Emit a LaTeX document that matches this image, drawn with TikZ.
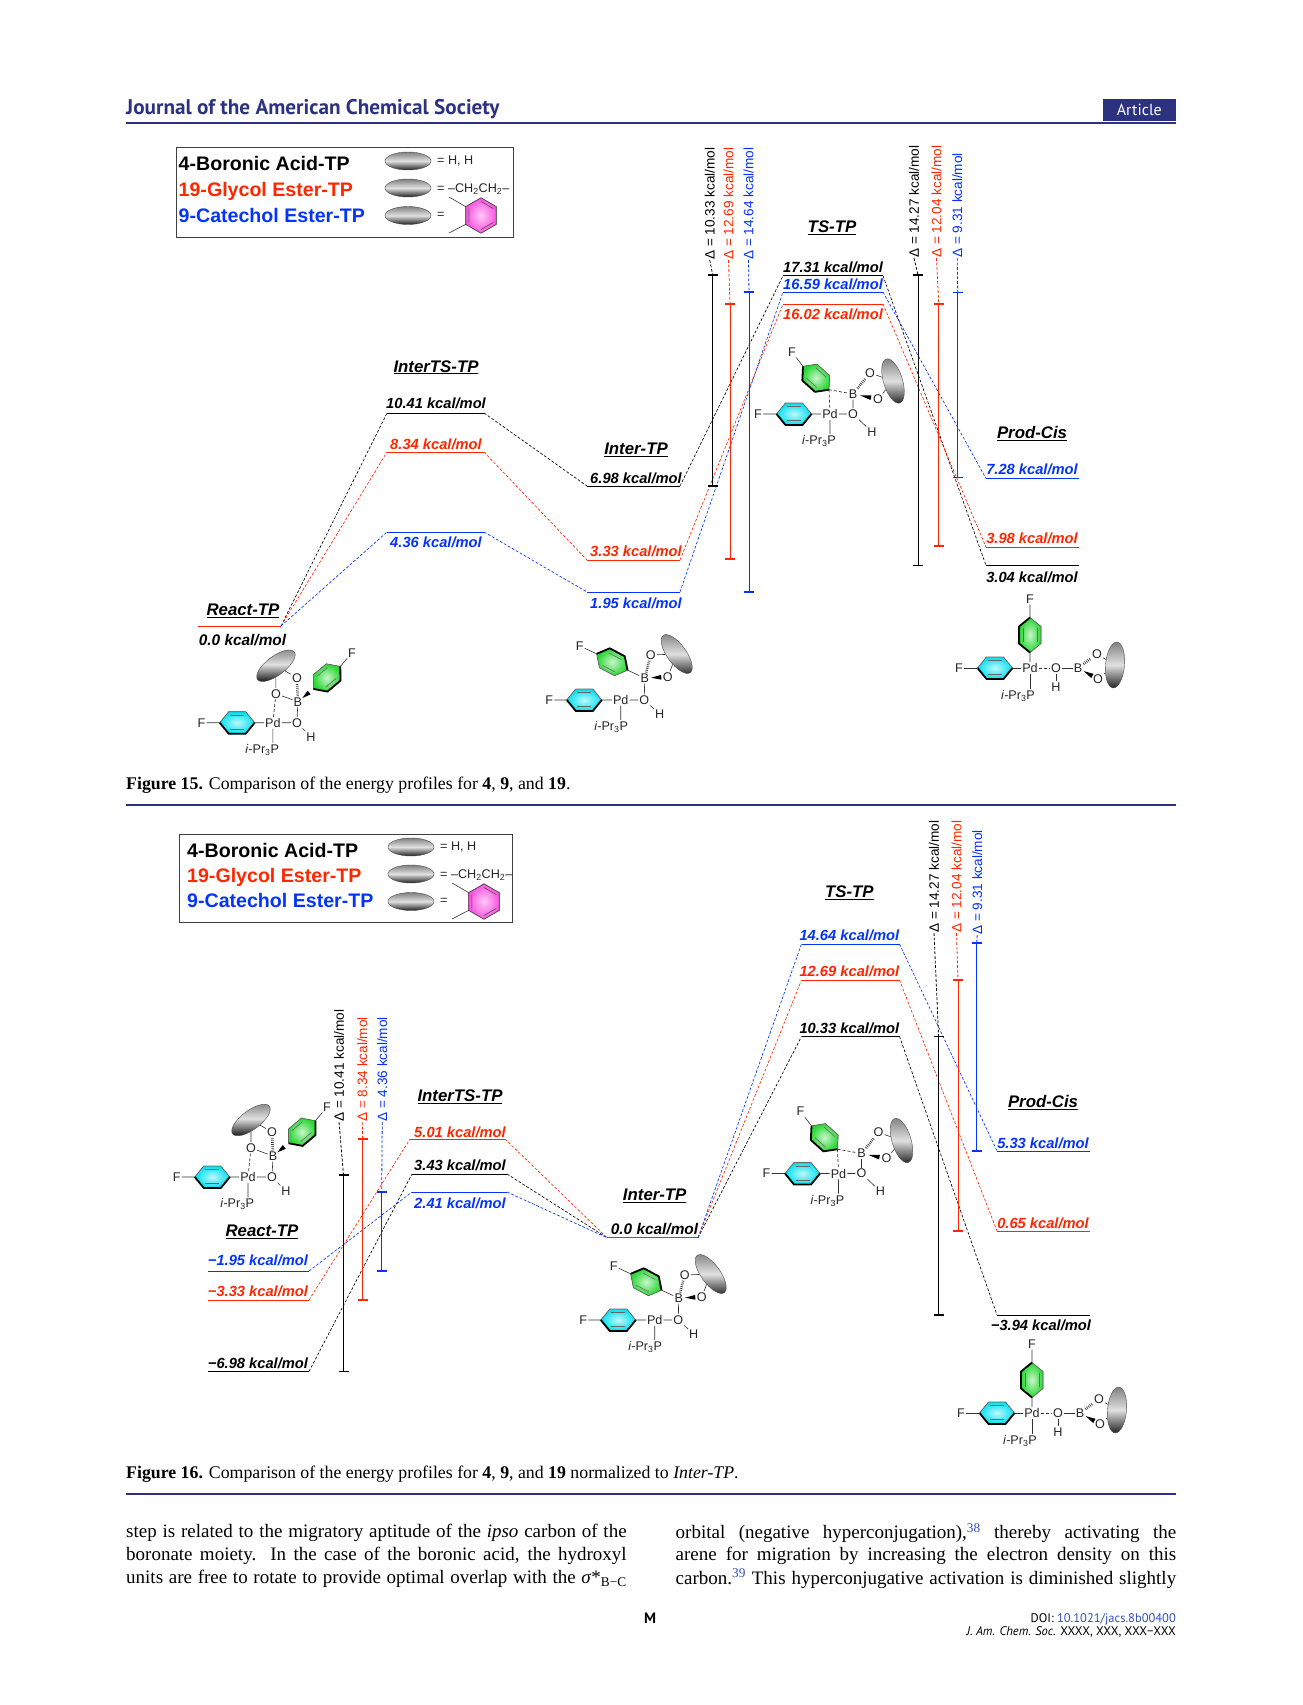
\documentclass[tikz,border=0pt]{standalone}
\usepackage{fontspec}
\setmainfont{Liberation Sans}
\newfontfamily\capfont{Liberation Serif}
\newfontfamily\headfont{PT Sans}
\usetikzlibrary{calc,shapes.geometric}
\definecolor{repRed}{RGB}{255,38,0}
\definecolor{repBlue}{RGB}{4,51,255}
\definecolor{jacsNavy}{RGB}{44,50,128}
\definecolor{ringCyan}{RGB}{0,225,240}
\definecolor{ringGreen}{RGB}{40,215,50}
\definecolor{ringPink}{RGB}{250,80,225}
\definecolor{linkBlue}{RGB}{50,80,190}

\newcommand{\wedgebond}[2]{%
    \coordinate (wa) at ($(#1)!.28!(#2)$);
    \coordinate (wb) at ($(#1)!.72!(#2)$);
    \fill (wa) -- ($(wb)!2.4pt!90:(wa)$) -- ($(wb)!2.4pt!-90:(wa)$) -- cycle;
}
\tikzset{
    atom/.style={font=\fontsize{12.6}{13}\selectfont, inner sep=1pt, text=black!85},
    bond/.style={line width=.6pt, black!80},
    dbond/.style={line width=.7pt, black!80, dash pattern=on 3pt off 2pt},
    hbond/.style={line width=2.6pt, black!80, dash pattern=on .7pt off 1.2pt},
    ball/.style={ellipse, draw=black!70, line width=.4pt, inner sep=0pt, minimum width=46pt, minimum height=19pt,
        top color=black!50, bottom color=black!88, middle color=black!12},
    conn/.style={line width=.65pt, dash pattern=on 2.8pt off 1.8pt},
    levelline/.style={line width=1pt},
    elabel/.style={font=\fontsize{14.7}{16}\selectfont\bfseries\itshape, inner sep=0pt, yshift=-.7pt},
    stitle/.style={font=\fontsize{16.8}{18}\selectfont\bfseries\itshape, inner sep=0pt, yshift=-.8pt},
    dlabel/.style={font=\fontsize{13.6}{15}\selectfont, rotate=90, anchor=west, inner sep=0pt},
    legtext/.style={font=\fontsize{19.6}{21}\selectfont\bfseries, anchor=west, inner sep=0pt, text height=14pt, text depth=4pt},
    legkey/.style={font=\fontsize{12.6}{13}\selectfont, anchor=west, inner sep=0pt, text=black!85, text height=9pt, text depth=3pt},
    figcap/.style={font=\capfont\fontsize{17.8}{19}\selectfont, anchor=west, inner sep=0pt},
    bodyline/.style={font=\capfont\fontsize{19}{20}\selectfont, anchor=west, inner sep=0pt},
    pics/aryl/.style={code={
        \coordinate (-w) at (-17.5,0);
        \coordinate (-e) at (17.5,0);
        \fill[inner color=white!75!#1, outer color=#1] (-17.5,0) -- (-8.5,-11) -- (8.5,-11) -- (17.5,0) -- (8.5,11) -- (-8.5,11) -- cycle;
        \draw[line width=.7pt, black!60] (-17.5,0) -- (-8.5,-11) -- (8.5,-11) -- (17.5,0);
        \draw[line width=1.8pt, line join=round, black] (-17.5,0) -- (-8.5,11) -- (8.5,11) -- (17.5,0);
        \draw[line width=.6pt, black!60] (-7,-7.5) -- (7,-7.5) (-7,6.5) -- (7,6.5);
    }},
    pics/reactmol/.style={code={
        \node[ball, rotate=37] (el) at (3,-57) {};
        \node[atom] (pd) at (0,0) {Pd};
        \node[atom] (fa) at (-71.4,0) {F};
        \node[atom] (ox) at (24,0) {O};
        \node[atom] (hh) at (38,14) {H};
        \node[atom] (pp) at (-10.7,27.3) {\textit{i}-Pr\textsubscript{3}P};
        \node[atom] (bb) at (25,-21) {B};
        \node[atom] (oa) at (3,-29) {O};
        \node[atom] (ob) at (24,-45) {O};
        \node[atom] (fb) at (79,-70) {F};
        \pic (cy) at (-35.7,0) {aryl=ringCyan};
        \pic[rotate=40] (gr) at (54,-45) {aryl=ringGreen};
        \draw[bond] (fa) -- (cy-w) (cy-e) -- (pd) (pd) -- (ox) (ox) -- (hh) (pd) -- (pd |- pp.north);
        \draw[bond] (bb) -- (ox) (oa) -- (bb) (oa) -- (el) (ob) -- (el) (gr-e) -- (fb);
        \draw[dbond] (pd) -- (oa);
        \draw[hbond] (bb) -- (ob);
        \wedgebond{bb}{gr-w}
    }},
    pics/intermol/.style={code={
        \node[ball, rotate=-54] (el) at (56,-46) {};
        \node[atom] (pd) at (0,0) {Pd};
        \node[atom] (fa) at (-71.4,0) {F};
        \node[atom] (ox) at (23.6,0) {O};
        \node[atom] (hh) at (39,14) {H};
        \node[atom] (pp) at (-9.6,26.7) {\textit{i}-Pr\textsubscript{3}P};
        \node[atom] (bb) at (24,-22) {B};
        \node[atom] (oa) at (30,-45) {O};
        \node[atom] (ob) at (47,-23) {O};
        \node[atom] (fb) at (-41,-54) {F};
        \pic (cy) at (-36.4,0) {aryl=ringCyan};
        \pic[rotate=152] (gr) at (-8.6,-38) {aryl=ringGreen};
        \draw[bond] (fa) -- (cy-w) (cy-e) -- (pd) (pd) -- (ox) (ox) -- (hh) (pd) -- (pd |- pp.north);
        \draw[bond] (bb) -- (ox) (oa) -- (el) (ob) -- (el) (gr-e) -- (fb) (gr-w) -- (bb);
        \draw[hbond] (bb) -- (oa);
        \wedgebond{bb}{ob}
    }},
    pics/tsmol/.style={code={
        \node[ball, rotate=-73] (el) at (63,-33) {};
        \node[atom] (pd) at (0,0) {Pd};
        \node[atom] (fa) at (-72,0) {F};
        \node[atom] (ox) at (23,0) {O};
        \node[atom] (hh) at (42,18) {H};
        \node[atom] (pp) at (-11,27) {\textit{i}-Pr\textsubscript{3}P};
        \node[atom] (bb) at (23,-20) {B};
        \node[atom] (oa) at (40,-41) {O};
        \node[atom] (ob) at (48,-15) {O};
        \node[atom] (fb) at (-38,-62) {F};
        \pic (cy) at (-36,0) {aryl=ringCyan};
        \pic[rotate=-42] (gr) at (-14,-36) {aryl=ringGreen};
        \draw[bond] (fa) -- (cy-w) (cy-e) -- (pd) (pd) -- (ox) (ox) -- (hh) (pd) -- (pd |- pp.north);
        \draw[bond] (bb) -- (ox) (oa) -- (el) (ob) -- (el) (gr-w) -- (fb);
        \draw[dbond] (gr-e) -- (pd) (gr-e) -- (bb);
        \draw[hbond] (bb) -- (oa);
        \wedgebond{bb}{ob}
    }},
    pics/prodmol/.style={code={
        \node[ball, rotate=85] (el) at (85,-3) {};
        \node[atom] (pd) at (0,0) {Pd};
        \node[atom] (fa) at (-71,0) {F};
        \node[atom] (ox) at (26,0) {O};
        \node[atom] (hh) at (26,19) {H};
        \node[atom] (pp) at (-12,28) {\textit{i}-Pr\textsubscript{3}P};
        \node[atom] (bb) at (48,0) {B};
        \node[atom] (oa) at (67,-14) {O};
        \node[atom] (ob) at (68,11) {O};
        \node[atom] (fb) at (0,-69) {F};
        \pic (cy) at (-35,0) {aryl=ringCyan};
        \pic[rotate=-90] (gr) at (0,-33) {aryl=ringGreen};
        \draw[bond] (fa) -- (cy-w) (cy-e) -- (pd) (ox) -- (hh) (ox) -- (bb) (pd) -- (pd |- pp.north);
        \draw[bond] (oa) -- (el) (ob) -- (el) (gr-w) -- (fb) (gr-e) -- (pd);
        \draw[dbond] (pd) -- (ox);
        \draw[hbond] (bb) -- (oa);
        \wedgebond{bb}{ob}
    }},
    pics/legendkey/.style={code={
        \foreach \n/\yy in {a/0,b/27,c/54.5} {
            \node[ball, minimum width=46pt, minimum height=18pt] (k\n) at (0,\yy) {};
        }
        \node[legkey] (ta) at (29,.8) {= H, H};
        \node[legkey] (tb) at (29,28) {= --CH\textsubscript{2}CH\textsubscript{2}--};
        \node[legkey] (tc) at (29,54.5) {=};
        \coordinate (rc) at (73,54.5);
        \fill[inner color=white!70!ringPink, outer color=ringPink] ($(rc)+(30:17.7)$) \foreach \a in {90,150,...,330} {-- ($(rc)+(\a:17.7)$)} -- cycle;
        \draw[line width=.7pt, black!70] ($(rc)+(30:17.7)$) \foreach \a in {90,150,...,330} {-- ($(rc)+(\a:17.7)$)} -- cycle;
        \coordinate (ua) at ($(rc)+(210:17.7)$);
        \coordinate (ub) at ($(rc)+(150:17.7)$);
        \coordinate (va) at (41,36);
        \coordinate (vb) at (41,72);
        \draw[line width=.6pt, black!80] (ua) -- (va) (ub) -- (vb);
        \draw[line width=.6pt, black!70] ($(rc)+(150:14)$) -- ($(rc)+(210:14)$) ($(rc)+(90:14)$) -- ($(rc)+(30:14)$) ($(rc)+(-30:14)$) -- ($(rc)+(-90:14)$);
    }},
}

\begin{document}
\begin{tikzpicture}[x=1pt, y=-1pt]
    \useasboundingbox (0,0) rectangle (1303,1705);

    % running head
    \node[anchor=west, inner sep=0pt, text=jacsNavy, font=\headfont\fontsize{21.2}{23}\selectfont\bfseries] (jhead) at (126,109) {Journal of the American Chemical Society};
    \node[anchor=center, minimum width=73pt, minimum height=22pt, inner sep=0pt, fill=jacsNavy, text=white, font=\headfont\fontsize{16}{18}\selectfont] (jtag) at (1139.3,110) {Article};
    \draw[jacsNavy, line width=1.8pt] (126,122.7) -- (1176,122.7);

    % legends
    \draw[black!75, line width=.8pt] (176.5,147.5) rectangle (513.5,237);
    \draw[black!75, line width=.8pt] (179.5,834) rectangle (512,922);
    \foreach \name/\xx/\yy/\col/\lab in {lega/178.5/165.2/black/4-Boronic Acid-TP,legb/178.5/191.2/repRed/19-Glycol Ester-TP,legc/178.5/217.2/repBlue/9-Catechol Ester-TP,
        legd/187/852.7/black/4-Boronic Acid-TP,lege/187/877.7/repRed/19-Glycol Ester-TP,legf/187/902.7/repBlue/9-Catechol Ester-TP} {
        \node[legtext, text=\col] (\name) at (\xx,\yy) {\lab};
    }
    \pic (keya) at (408,161) {legendkey};
    \pic (keyb) at (411,847) {legendkey};

    % energy levels
    \foreach \name/\xa/\xb/\yy/\col in {
        ra15k/198/281/626/black,ra15b/198/281/626/repBlue,ra15r/198/281/626/repRed,
        it15k/387/484/413/black,it15r/387/484/452/repRed,it15b/387/484/532/repBlue,
        in15k/587/680/486/black,in15r/587/680/560/repRed,in15b/587/680/592/repBlue,
        ts15k/783/883/275.7/black,ts15b/783/883/292/repBlue,ts15r/783/883/304/repRed,
        pr15b/986/1079/478.5/repBlue,pr15r/986/1079/547/repRed,pr15k/986/1079/565.5/black,
        ra16b/208/309/1271/repBlue,ra16r/208/309/1300/repRed,ra16k/208/309/1371.5/black,
        it16r/410/505/1139/repRed,it16k/412/507/1174/black,it16b/412/507/1192/repBlue,
        in16k/607/698/1237.7/black,in16b/607/698/1237.7/repBlue,in16r/607/698/1237.7/repRed,
        ts16b/801.5/899.5/944/repBlue,ts16r/801.5/899.5/980/repRed,ts16k/801.5/899.5/1036.5/black,
        pr16b/997/1090/1151/repBlue,pr16r/997/1090/1231/repRed,pr16k/997/1090/1315/black} {
        \coordinate (\name-l) at (\xa,\yy);
        \coordinate (\name-r) at (\xb,\yy);
        \draw[levelline, \col] (\name-l) -- (\name-r);
    }
    \foreach \f in {15,16} {
        \foreach \col/\c in {black/k,repRed/r,repBlue/b} {
            \draw[conn, \col] (ra\f\c-r) -- (it\f\c-l) (it\f\c-r) -- (in\f\c-l) (in\f\c-r) -- (ts\f\c-l) (ts\f\c-r) -- (pr\f\c-l);
        }
    }

    % level values
    \foreach \name/\xx/\yy/\col/\lab in {
        vb15/436/402.5/black/10.41,vc15/436/444/repRed/8.34,vd15/436/541.6/repBlue/4.36,
        ve15/636/477.5/black/6.98,vf15/636/550.4/repRed/3.33,vg15/636/602.6/repBlue/1.95,
        vh15/833/267/black/17.31,vi15/833/284/repBlue/16.59,vj15/833/314/repRed/16.02,
        vk15/1032/469/repBlue/7.28,vl15/1032/538/repRed/3.98,vm15/1032/576.5/black/3.04,
        va16/258/1260/repBlue/−1.95,vb16/258/1291/repRed/−3.33,vc16/258/1363/black/−6.98,
        vd16/460/1132/repRed/5.01,ve16/460/1165/black/3.43,vf16/460/1203/repBlue/2.41,
        vh16/849.4/935/repBlue/14.64,vi16/849.4/971/repRed/12.69,vj16/849.4/1028/black/10.33,
        vk16/1043/1143/repBlue/5.33,vl16/1043/1222.5/repRed/0.65,vm16/1041/1325/black/−3.94} {
        \node[elabel, text=\col] (\name) at (\xx,\yy) {\lab{} kcal/mol};
    }
    \node[elabel, font=\fontsize{15.4}{16}\selectfont\bfseries\itshape] (va15) at (242.5,639) {0.0 kcal/mol};
    \node[elabel, font=\fontsize{15.4}{16}\selectfont\bfseries\itshape] (vg16) at (654.5,1228) {0.0 kcal/mol};

    % stage names
    \foreach \name/\xx/\yy/\lab in {
        sa15/243/610/React-TP,sb15/436/366.5/InterTS-TP,sc15/636/449/Inter-TP,sd15/832/227/TS-TP,se15/1032/433/Prod-Cis,
        sa16/262/1231/React-TP,sb16/460/1096/InterTS-TP,sc16/654.7/1195/Inter-TP,sd16/849.4/892/TS-TP,se16/1043/1102/Prod-Cis} {
        \node[stitle] (\name) at (\xx,\yy) {\underline{\lab}};
    }

    % difference bars
    \foreach \name/\xx/\ya/\yb/\col/\lx/\ly/\lab in {
        da15/712.7/275/486/black/709.7/260/10.33,db15/730/304/559/repRed/728.5/260/12.69,dc15/749/292/592/repBlue/748.5/260/14.64,
        dd15/918/275/565.5/black/914/258/14.27,de15/938.7/304/546/repRed/936.5/258/12.04,df15/957.7/292.5/477.5/repBlue/957.2/258/9.31,
        da16/343.5/1175/1371.5/black/339/1122/10.41,db16/362.7/1139/1300/repRed/362.2/1122/8.34,dc16/381.7/1192/1271/repBlue/382.2/1122/4.36,
        dd16/938.6/1036.5/1315/black/934/933/14.27,de16/958/980/1231/repRed/956.5/933/12.04,df16/976.7/943/1151/repBlue/977.2/935/9.31} {
        \node[dlabel, text=\col] (\name-t) at (\lx,\ly) {Δ = \lab{} kcal/mol};
        \coordinate (\name-a) at (\xx,\ya);
        \coordinate (\name-b) at (\xx,\yb);
        \draw[\col, line width=.8pt, dash pattern=on 2.8pt off 1.8pt] (\name-t.west) -- (\name-a);
        \draw[\col, line width=1pt] (\name-a) -- (\name-b);
        \draw[\col, line width=1.6pt] ([xshift=-5pt]\name-a) -- ([xshift=5pt]\name-a) ([xshift=-5pt]\name-b) -- ([xshift=5pt]\name-b);
    }

    % molecules
    \pic (moa) at (272.9,722.7) {reactmol};
    \pic (mob) at (620.7,700) {intermol};
    \pic (moc) at (830,414) {tsmol};
    \pic (mod) at (1030,668) {prodmol};
    \pic (moe) at (248,1177) {reactmol};
    \pic (mof) at (654.7,1320) {intermol};
    \pic (mog) at (838.5,1173.5) {tsmol};
    \pic (moh) at (1032,1413) {prodmol};

    % captions
    \node[figcap] (cpa) at (126,785) {\textbf{Figure 15.} Comparison of the energy profiles for \textbf{4}, \textbf{9}, and \textbf{19}.};
    \node[figcap] (cpb) at (126,1474) {\textbf{Figure 16.} Comparison of the energy profiles for \textbf{4}, \textbf{9}, and \textbf{19} normalized to \textit{Inter-TP}.};
    \draw[jacsNavy, line width=1.8pt] (126,805) -- (1176,805);
    \draw[jacsNavy, line width=1.8pt] (126,1494) -- (1176,1494);

    % body text
    \node[bodyline] (bla) at (126,1533) {\makebox[500.5pt][s]{step is related to the migratory aptitude of the \textit{ipso} carbon of the}};
    \node[bodyline] (blb) at (126,1555.5) {\makebox[500.5pt][s]{boronate moiety. In the case of the boronic acid, the hydroxyl}};
    \node[bodyline] (blc) at (126,1578.5) {\makebox[500.5pt][s]{units are free to rotate to provide optimal overlap with the \textit{σ}*\textsubscript{B−C}}};
    \node[bodyline] (bra) at (675.5,1533) {\makebox[500.5pt][s]{orbital (negative hyperconjugation),\textsuperscript{\textcolor{linkBlue}{38}} thereby activating the}};
    \node[bodyline] (brb) at (675.5,1555.5) {\makebox[500.5pt][s]{arene for migration by increasing the electron density on this}};
    \node[bodyline] (brc) at (675.5,1578.5) {\makebox[500.5pt][s]{carbon.\textsuperscript{\textcolor{linkBlue}{39}} This hyperconjugative activation is diminished slightly}};

    % footer
    \node[inner sep=0pt, font=\headfont\fontsize{15}{17}\selectfont\bfseries] (fpage) at (650,1618) {M};
    \node[anchor=east, inner sep=0pt, font=\headfont\fontsize{12.5}{14}\selectfont] (fdoi) at (1176,1619) {DOI: \textcolor{linkBlue}{10.1021/jacs.8b00400}};
    \node[anchor=east, inner sep=0pt, font=\headfont\fontsize{12.5}{14}\selectfont] (fref) at (1176,1632) {\textit{J. Am. Chem. Soc.} XXXX, XXX, XXX−XXX};
\end{tikzpicture}
\end{document}
